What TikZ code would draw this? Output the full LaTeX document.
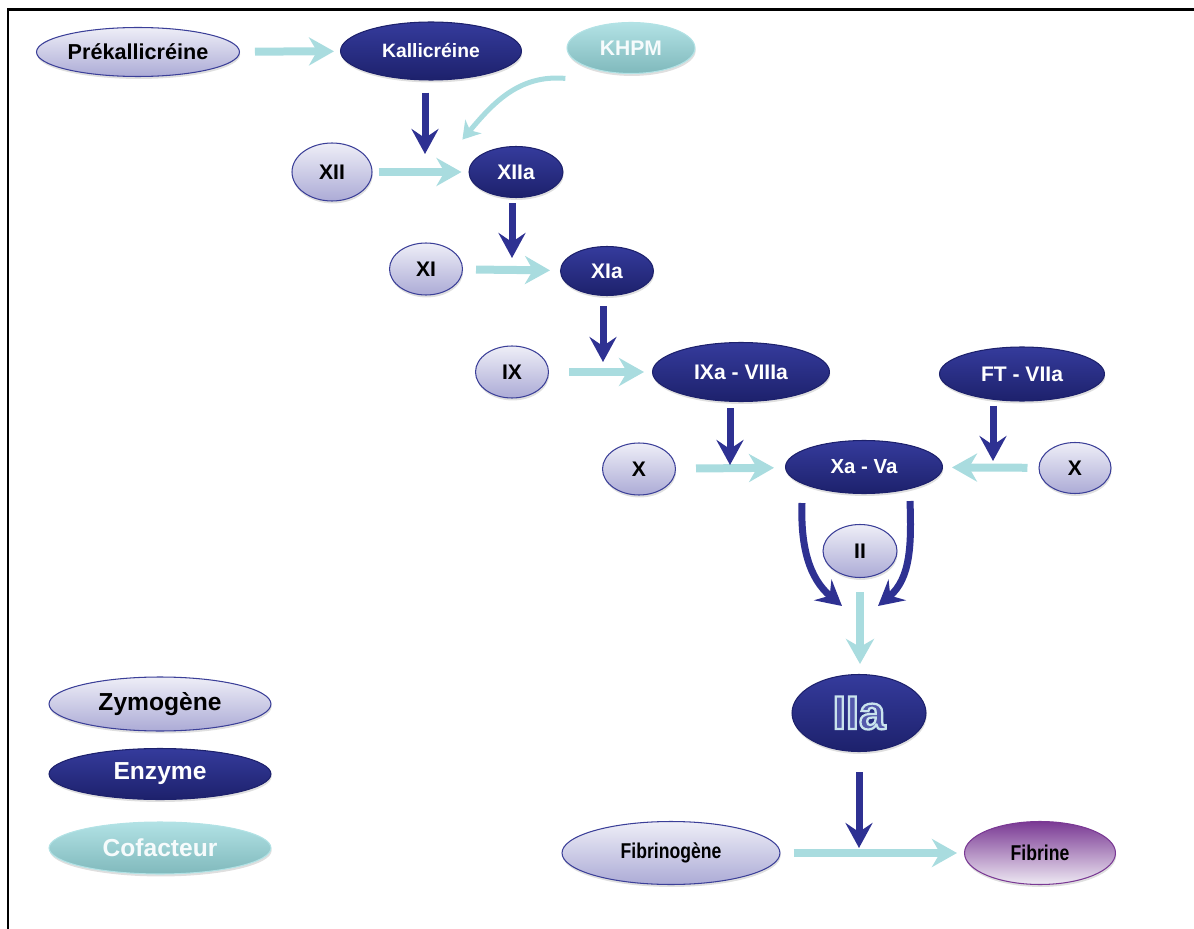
\documentclass[tikz,border=0pt]{standalone}
\usepackage{fontspec}
\setmainfont{Liberation Sans}
\newfontfamily\narrowfont[FakeStretch=0.82]{Liberation Sans}
\usetikzlibrary{shapes.geometric,arrows.meta,shadows,calc}
\definecolor{zymtop}{HTML}{EEEEF7}
\definecolor{zymbot}{HTML}{ACABD6}
\definecolor{zymline}{HTML}{3B3F98}
\definecolor{enztop}{HTML}{353B9C}
\definecolor{enzbot}{HTML}{1D216C}
\definecolor{coftop}{HTML}{B2E2E5}
\definecolor{cofbot}{HTML}{80B9BC}
\definecolor{fibtop}{HTML}{7A3994}
\definecolor{fibbot}{HTML}{EEE9F3}
\definecolor{cyarrow}{HTML}{A9DCDF}
\definecolor{bluarrow}{HTML}{2E3192}
\tikzset{
  oval/.style={ellipse, inner sep=0pt, font=\bfseries\fontsize{12}{14}\selectfont,
    drop shadow={opacity=0.25, shadow xshift=0.4pt, shadow yshift=-1.4pt}},
  zym/.style={oval, draw=zymline, line width=0.6pt, top color=zymtop, bottom color=zymbot, text=black},
  enz/.style={oval, draw=enzbot, line width=0.6pt, top color=enztop, bottom color=enzbot, text=white},
  cof/.style={oval, draw=coftop, line width=0.6pt, top color=coftop, bottom color=cofbot, text=white!90!cyarrow},
  fib/.style={oval, draw=fibtop, line width=0.6pt, top color=fibtop, bottom color=fibbot, text=black},
  cyarr/.style={draw=cyarrow, line width=0.16cm, -{Stealth[length=0.5cm, width=0.56cm, inset=0.16cm]}},
  bluarr/.style={draw=bluarrow, line width=0.14cm, -{Stealth[length=0.5cm, width=0.54cm, inset=0.18cm]}}
}
\newcommand{\hollow}[1]{\special{pdf:literal direct 2 Tr 1.3 w 0.79 0.89 0.93 RG}#1\special{pdf:literal direct 0 Tr}}
\begin{document}
\begin{tikzpicture}[x=0.02cm, y=-0.02cm]
    \useasboundingbox (0,0) rectangle (1194,929);
    \draw[line width=0.06cm, line join=miter] (8,940) -- (8,10) -- (1200,10);

    \node[zym, minimum width=4.06cm, minimum height=0.98cm, font=\bfseries\fontsize{12.3}{14}\selectfont] (pre) at (138,52) {Prékallicréine};
    \node[enz, minimum width=3.62cm, minimum height=1.16cm, font=\bfseries\fontsize{11}{14}\selectfont] (kal) at (431,51) {Kallicréine};
    \node[cof, minimum width=2.56cm, minimum height=1.02cm] (khpm) at (631,48) {KHPM};
    \node[zym, minimum width=1.6cm, minimum height=1.16cm] (xii) at (332,172) {XII};
    \node[enz, minimum width=1.88cm, minimum height=1.02cm] (xiia) at (516,172) {XIIa};
    \node[zym, minimum width=1.46cm, minimum height=1.04cm] (xi) at (426,269) {XI};
    \node[enz, minimum width=1.86cm, minimum height=0.98cm] (xia) at (607,271) {XIa};
    \node[zym, minimum width=1.46cm, minimum height=1.04cm] (ix) at (512,372) {IX};
    \node[enz, minimum width=3.54cm, minimum height=1.18cm] (ixa) at (741,372) {IXa - VIIIa};
    \node[enz, minimum width=3.3cm, minimum height=1.08cm] (ftvii) at (1022,374) {FT - VIIa};
    \node[zym, minimum width=1.46cm, minimum height=1.04cm] (xl) at (639,469) {X};
    \node[enz, minimum width=3.14cm, minimum height=1.06cm, font=\bfseries\fontsize{11.6}{14}\selectfont] (xa) at (864,467) {Xa - Va};
    \node[zym, minimum width=1.44cm, minimum height=1.02cm] (xr) at (1075,468) {X};
    \node[zym, minimum width=1.48cm, minimum height=1.06cm] (ii) at (860,551) {II};
    \node[enz, minimum width=2.68cm, minimum height=1.54cm, text=enztop!85!white, font=\bfseries\fontsize{27}{30}\selectfont] (iia) at (859,713) {\hollow{IIa}};
    \node[zym, minimum width=4.36cm, minimum height=1.26cm, font=\narrowfont\bfseries\fontsize{12.2}{14}\selectfont] (fgen) at (671,853) {Fibrinogène};
    \node[fib, minimum width=3.02cm, minimum height=1.26cm, font=\narrowfont\bfseries\fontsize{12.2}{14}\selectfont] (fbn) at (1040,853) {Fibrine};

    \node[zym, minimum width=4.44cm, minimum height=1.08cm, font=\bfseries\fontsize{14}{16}\selectfont] (legzym) at (160,704) {Zymogène};
    \node[enz, minimum width=4.44cm, minimum height=1.02cm, font=\bfseries\fontsize{14}{16}\selectfont] (legenz) at (160,774) {Enzyme};
    \node[cof, minimum width=4.44cm, minimum height=1.04cm, font=\bfseries\fontsize{14}{16}\selectfont] (legcof) at (160,848) {Cofacteur};

    \coordinate (j12) at (425,154);
    \coordinate (j11) at (512,258);
    \coordinate (j9) at (603,362);
    \coordinate (j10l) at (730,465);
    \coordinate (j10r) at (993,461);
    \coordinate (jl) at (842,606);
    \coordinate (jr) at (878,606);
    \coordinate (j2) at (859,848);

    \draw[cyarr, shorten <=0.3cm, shorten >=0.12cm] (pre) -- (kal);
    \draw[cyarr, shorten <=0.12cm, shorten >=0.14cm] (xii) -- (xiia);
    \draw[cyarr, shorten <=0.26cm, shorten >=0.2cm] (xi) -- (xia);
    \draw[cyarr, shorten <=0.4cm, shorten >=0.16cm] (ix) -- (ixa);
    \draw[cyarr, shorten <=0.4cm, shorten >=0.22cm] (xl) -- (xa);
    \draw[cyarr, shorten <=0.22cm, shorten >=0.18cm] (xr) -- (xa);
    \draw[cyarr, shorten <=0.26cm, shorten >=0.14cm] (fgen) -- (fbn);
    \draw[cyarr, shorten <=0.28cm, shorten >=0.2cm] (ii.south) -- (ii.south |- iia.north);
    \draw[cyarr, line width=0.1cm, -{Stealth[length=0.34cm, width=0.42cm, inset=0.1cm]}]
        ($(khpm.south west)+(-20,12)$) to[out=175, in=50] ($(xiia.north west)+(-20,-14)$);

    \draw[bluarr, shorten <=0.24cm] (kal.south -| j12) -- (j12);
    \draw[bluarr, shorten <=0.1cm] (xiia.south -| j11) -- (j11);
    \draw[bluarr, shorten <=0.2cm] (xia.south -| j9) -- (j9);
    \draw[bluarr, shorten <=0.12cm] (ixa.south -| j10l) -- (j10l);
    \draw[bluarr, shorten <=0.08cm] (ftvii.south -| j10r) -- (j10r);
    \draw[bluarr, shorten <=0.4cm] (iia.south) -- (j2);
    \draw[bluarr] ($(xa.south)+(-62,9)$) to[out=-92, in=140] (jl);
    \draw[bluarr] ($(xa.south)+(46,7)$) to[out=-88, in=40] (jr);
\end{tikzpicture}
\end{document}
